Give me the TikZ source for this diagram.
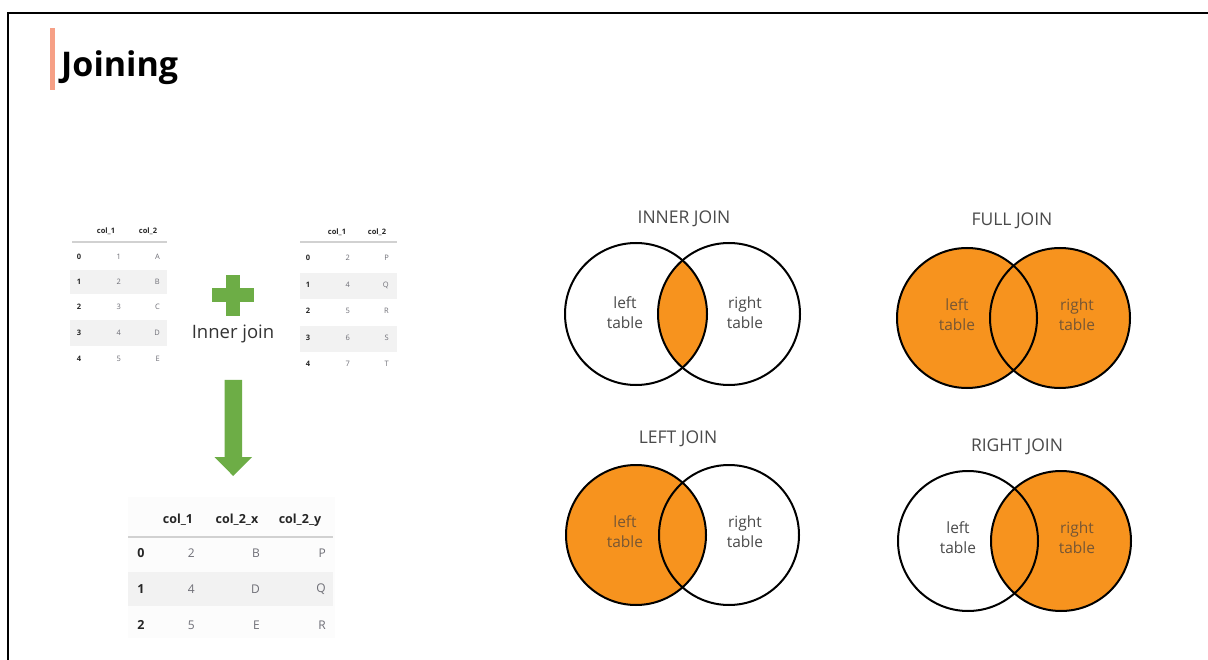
\documentclass[tikz,border=0pt]{standalone}
\usepackage{fontspec}
\setmainfont{Open Sans}
\definecolor{joinorange}{HTML}{F7931E}
\definecolor{plusgreen}{HTML}{6DAD46}
\definecolor{barsalmon}{HTML}{F6A086}
\definecolor{stripe}{HTML}{F2F2F2}
\definecolor{valgray}{HTML}{6E6E76}
\definecolor{labelgray}{HTML}{4A4A4A}
\definecolor{onorange}{HTML}{765634}
\begin{document}
\begin{tikzpicture}[x=1pt,y=-1pt,
  hdr/.style={inner sep=0pt, font=\fontsize{7.5}{9}\selectfont\bfseries, text=black!85},
  idx/.style={inner sep=0pt, font=\fontsize{7.5}{9}\selectfont\bfseries, text=black!85},
  val/.style={inner sep=0pt, anchor=east, font=\fontsize{7.5}{9}\selectfont, text=valgray},
  bhdr/.style={inner sep=0pt, font=\fontsize{12.5}{14}\selectfont\bfseries, text=black!85},
  bidx/.style={inner sep=0pt, font=\fontsize{12.5}{14}\selectfont\bfseries, text=black!85},
  bval/.style={inner sep=0pt, anchor=east, font=\fontsize{12}{14}\selectfont, text=valgray},
  rule/.style={draw=black!18, line width=1.2pt},
  circ/.style={draw=black, line width=2pt},
  jtitle/.style={font=\fontsize{17.5}{19}\selectfont, text=labelgray},
  lbl/.style={align=center, font=\fontsize{15.5}{20}\selectfont, text=labelgray},
  lblo/.style={align=center, font=\fontsize{15.5}{20}\selectfont, text=onorange},
  greenshape/.style={fill=plusgreen}
]
\useasboundingbox (0,0) rectangle (1208,660);
\fill[white] (0,0) rectangle (1208,660);
% frame
\draw[line width=2pt] (1208,13) -- (8,13) -- (8,660);
% title
\fill[barsalmon] (50,28) rectangle (54.5,90);
\node[anchor=base west, inner sep=0pt, font=\fontsize{34}{40}\selectfont\bfseries] (title) at (61,77) {Joining};

% left table
\fill[stripe] (70,270) rectangle (167,294);
\fill[stripe] (70,320) rectangle (167,346);
\draw[rule] (72,242) -- (167,242);
\node[hdr] (Lh1) at (106,231) {col\_1};
\node[hdr] (Lh2) at (148,231) {col\_2};
\foreach \i/\a/\b/\y in {0/1/A/257,1/2/B/282,2/3/C/307,3/4/D/333,4/5/E/359}{
  \node[idx] (Li\i) at (79,\y) {\i};
  \node[val] (La\i) at (121,\y) {\a};
  \node[val] (Lb\i) at (160,\y) {\b};
}

% right table
\fill[stripe] (300,273) rectangle (397,299);
\fill[stripe] (300,326) rectangle (397,352);
\draw[rule] (300,242) -- (397,242);
\node[hdr] (Rh1) at (337,232) {col\_1};
\node[hdr] (Rh2) at (377,232) {col\_2};
\foreach \i/\a/\b/\y in {0/2/P/258,1/4/Q/285,2/5/R/311,3/6/S/338,4/7/T/364}{
  \node[idx] (Ri\i) at (308,\y) {\i};
  \node[val] (Ra\i) at (350,\y) {\a};
  \node[val] (Rb\i) at (389,\y) {\b};
}

% plus and label
\fill[greenshape] (212,288) rectangle (254,302);
\fill[greenshape] (225.5,275) rectangle (240,316);
\node[anchor=base, inner sep=0pt, font=\fontsize{18.5}{21}\selectfont, text=black!80] (ij) at (233,339) {Inner join};

% arrow
\fill[greenshape] (224.5,380) -- (242,380) -- (242,457) -- (252,457) -- (233.2,476) -- (214.5,457) -- (224.5,457) -- cycle;

% bottom table
\fill[black!1] (128,497) rectangle (335,638);
\fill[stripe] (128,572) rectangle (333,606);
\draw[rule] (128,537) -- (333,537);
\node[bhdr] (Bh1) at (178,520) {col\_1};
\node[bhdr] (Bh2) at (237,520) {col\_2\_x};
\node[bhdr] (Bh3) at (300,520) {col\_2\_y};
\foreach \i/\a/\b/\c/\y in {0/2/B/P/553,1/4/D/Q/589,2/5/E/R/625}{
  \node[bidx] (Bi\i) at (141,\y) {\i};
  \node[bval] (Ba\i) at (195,\y) {\a};
  \node[bval] (Bb\i) at (260,\y) {\b};
  \node[bval] (Bc\i) at (326,\y) {\c};
}

% INNER JOIN
\node[jtitle] (tinner) at (684,219) {INNER JOIN};
\begin{scope}
  \clip (636,314) circle (71);
  \fill[joinorange] (729,314) circle (71);
\end{scope}
\draw[circ] (636,314) circle (71);
\draw[circ] (729,314) circle (71);
\node[lbl] (il) at (625,313) {left\\table};
\node[lbl] (ir) at (745,313) {right\\table};

% FULL JOIN
\node[jtitle] (tfull) at (1012,221) {FULL JOIN};
\fill[joinorange] (967,318) circle (70);
\fill[joinorange] (1060,318) circle (70);
\draw[circ] (967,318) circle (70);
\draw[circ] (1060,318) circle (70);
\node[lblo] (fl) at (957,315) {left\\table};
\node[lblo] (fr) at (1077,315) {right\\table};

% LEFT JOIN
\node[jtitle] (tleft) at (678,439) {LEFT JOIN};
\fill[joinorange] (636,535) circle (70);
\draw[circ] (636,535) circle (70);
\draw[circ] (729,535) circle (70);
\node[lblo] (ll) at (625,532) {left\\table};
\node[lbl] (lr) at (745,532) {right\\table};

% RIGHT JOIN
\node[jtitle] (tright) at (1017,447) {RIGHT JOIN};
\fill[joinorange] (1061,541) circle (70);
\draw[circ] (968,541) circle (70);
\draw[circ] (1061,541) circle (70);
\node[lbl] (rl) at (958,538) {left\\table};
\node[lblo] (rr) at (1077,538) {right\\table};
\end{tikzpicture}
\end{document}
